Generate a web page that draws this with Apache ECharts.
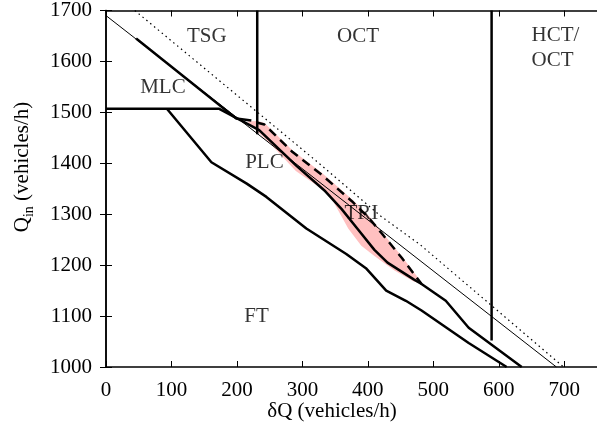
<!DOCTYPE html>
<html>
<head>
<meta charset="utf-8">
<script src="https://cdn.jsdelivr.net/npm/echarts@6/dist/echarts.min.js"></script>
<style>html,body{margin:0;padding:0;background:#fff}#c{width:597px;height:431px}</style>
</head>
<body>
<div id="c"></div>
<script>
// ---- data (δQ, Qin) ----
const xTicks = [0, 100, 200, 300, 400, 500, 600, 700];
const yTicks = [1000, 1100, 1200, 1300, 1400, 1500, 1600, 1700];

const thinLine = [[0, 1690], [688, 1000]];
const dottedLine = [[44, 1700], [330, 1395], [420, 1296], [480, 1240], [699, 1000]];
const mlcUpper = [[46, 1645], [199, 1488], [222, 1484]];
const plcUpper = [[0, 1507], [173, 1507], [234, 1465], [291, 1395], [335, 1345], [360, 1310],
  [385, 1270], [410, 1230], [430, 1205], [470, 1172], [482, 1163], [519, 1130], [554, 1077], [635, 1000]];
const plcLower = [[93, 1507], [161, 1402], [215, 1360], [245, 1334], [306, 1272], [367, 1222],
  [397, 1194], [428, 1150], [458, 1130], [482, 1111], [554, 1047], [612, 1000]];
const triDashed = [[230, 1480], [242, 1476], [285, 1422], [330, 1377], [376, 1325], [402, 1292],
  [422, 1261], [452, 1214], [482, 1163]];
const triBand = [[216, 1482], [232, 1483], [242, 1479], [285, 1425], [330, 1381], [376, 1329],
  [402, 1296], [422, 1264], [452, 1217], [484, 1163], [470, 1168], [440, 1190], [410, 1218],
  [390, 1238], [370, 1272], [345, 1330], [335, 1345], [290, 1385], [250, 1440], [225, 1470]];
const tsgBorder = [[231, 1457], [231, 1700]];
const hctBorder = [[589, 1052], [589, 1700]];

const regionNames = ['TSG', 'OCT', 'HCT/\nOCT', 'MLC', 'PLC', 'TRI', 'FT'];
const regionX = [154, 385, 650, 87, 242, 390, 230];
const regionY = [1649, 1649, 1626, 1548, 1402, 1301, 1099];

// ---- chart ----
const FONT = 'Liberation Serif';
const chart = echarts.init(document.getElementById('c'), null, { renderer: 'canvas' });

function thick(data, extra) {
  return Object.assign({
    type: 'line', data: data, symbol: 'none', silent: true, z: 3,
    lineStyle: { color: '#000', width: 2.5 }
  }, extra || {});
}

const labelData = regionNames.map((n, i) => {
  const d = { name: n, value: [regionX[i], regionY[i]] };
  if (n.indexOf('HCT') === 0) d.label = { align: 'left' };
  return d;
});

const axisCommon = {
  axisLine: { show: true, lineStyle: { color: '#000', width: 1.5 } },
  axisTick: { show: true, inside: true, length: 6, lineStyle: { color: '#000', width: 1 } },
  splitLine: { show: false }
};

chart.setOption({
  animation: false,
  backgroundColor: '#fff',
  grid: { left: 106, top: 7, width: 493, height: 360 },
  xAxis: [
    Object.assign({
      type: 'value', min: 0, max: 750, interval: 100, position: 'bottom',
      axisLabel: { color: '#000', fontFamily: FONT, fontSize: 21, margin: 13, showMaxLabel: false,
        formatter: v => (xTicks.indexOf(v) >= 0 ? String(v) : '') }
    }, axisCommon),
    Object.assign({
      type: 'value', min: 0, max: 750, interval: 100, position: 'top',
      axisLabel: { show: false }
    }, axisCommon)
  ],
  yAxis: [
    Object.assign({
      type: 'value', min: 1000, max: 1700, interval: 100, position: 'left',
      axisLabel: { color: '#000', fontFamily: FONT, fontSize: 21, margin: 14,
        formatter: v => (yTicks.indexOf(v) >= 0 ? String(v) : '') }
    }, axisCommon),
    Object.assign({
      type: 'value', min: 1000, max: 1700, interval: 100, position: 'right',
      axisLabel: { show: false }
    }, axisCommon)
  ],
  series: [
    {
      type: 'custom', silent: true, z: 1,
      data: [triBand[0]],
      renderItem: function (params, api) {
        const pts = triBand.map(p => api.coord(p));
        return { type: 'polygon', shape: { points: pts }, style: { fill: '#ffc0c0' } };
      }
    },
    { type: 'line', data: thinLine, symbol: 'none', silent: true, z: 2, lineStyle: { color: '#000', width: 1 } },
    { type: 'line', data: dottedLine, symbol: 'none', silent: true, z: 2, lineStyle: { color: '#000', width: 1.2, type: [1.5, 3.5] } },
    thick(mlcUpper),
    thick(plcUpper),
    thick(plcLower),
    thick(triDashed, { lineStyle: { color: '#000', width: 2.5, type: [9, 6] } }),
    thick(tsgBorder),
    thick(hctBorder),
    {
      type: 'scatter', data: labelData, symbolSize: 0, silent: true, z: 5,
      label: { show: true, position: 'inside', formatter: p => p.name, color: '#000',
        fontFamily: FONT, fontSize: 21, lineHeight: 25 }
    }
  ],
  graphic: [
    {
      type: 'text', x: 332, y: 411,
      style: { text: 'δQ (vehicles/h)', fill: '#000', font: '21px "Liberation Serif"', align: 'center', verticalAlign: 'middle' }
    },
    {
      type: 'text', x: 22, y: 167, rotation: Math.PI / 2,
      style: {
        text: '{q|Q}{s|in}{q| (vehicles/h)}', fill: '#000', align: 'center', verticalAlign: 'middle',
        font: '21px "Liberation Serif"',
        rich: {
          q: { fontFamily: FONT, fontSize: 21, lineHeight: 28, fill: '#000', verticalAlign: 'middle' },
          s: { fontFamily: FONT, fontSize: 14, lineHeight: 14, fill: '#000', verticalAlign: 'bottom' }
        }
      }
    }
  ]
});
</script>
</body>
</html>
